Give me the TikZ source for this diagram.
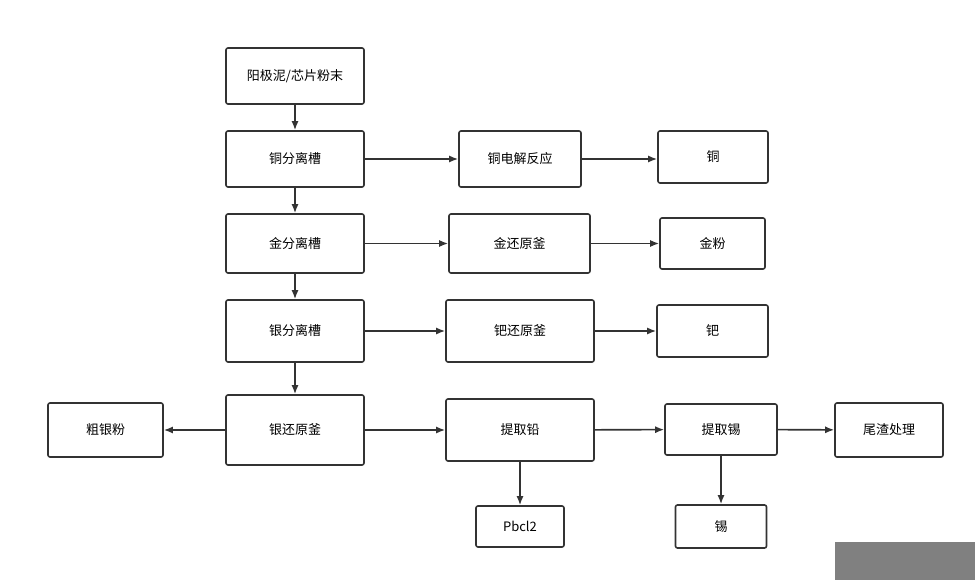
\documentclass[tikz,border=0pt]{standalone}
\usepackage{fontspec}
\setmainfont{Noto Sans CJK SC}
\usetikzlibrary{arrows.meta}
\definecolor{linegray}{HTML}{333333}
\begin{document}
\begin{tikzpicture}[x=1pt,y=-1pt,
	procbox/.style={draw=linegray,line width=1.6pt,rounded corners=2pt,inner sep=0pt,font=\fontsize{13}{15}\selectfont},
	flow/.style={draw=linegray,line width=1.6pt,-{Latex[length=9pt,width=7pt]}}]
			\useasboundingbox (0,0) rectangle (975,580);
			\fill[gray] (835,542) rectangle (975,580);

			\node[procbox,minimum width=138pt,minimum height=56pt]	(mud)		at (295,76)		{阳极泥/芯片粉末};
			\node[procbox,minimum width=138pt,minimum height=56pt]	(cusep)		at (295,159)	{铜分离槽};
			\node[procbox,minimum width=122pt,minimum height=56pt]	(cuelec)	at (520,159)	{铜电解反应};
			\node[procbox,minimum width=110pt,minimum height=52pt]	(cu)		at (713,157)	{铜};
			\node[procbox,minimum width=138pt,minimum height=59pt]	(ausep)		at (295,243.5)	{金分离槽};
			\node[procbox,minimum width=141pt,minimum height=59pt]	(aured)		at (519.5,243.5){金还原釜};
			\node[procbox,minimum width=105pt,minimum height=51pt]	(au)		at (712.5,243.5){金粉};
			\node[procbox,minimum width=138pt,minimum height=62pt]	(agsep)		at (295,331)	{银分离槽};
			\node[procbox,minimum width=148pt,minimum height=62pt]	(pdred)		at (520,331)	{钯还原釜};
			\node[procbox,minimum width=111pt,minimum height=52pt]	(pd)		at (712.5,331)	{钯};
			\node[procbox,minimum width=138pt,minimum height=70pt]	(agred)		at (295,430)	{银还原釜};
			\node[procbox,minimum width=115pt,minimum height=54pt]	(ag)		at (105.5,430)	{粗银粉};
			\node[procbox,minimum width=148pt,minimum height=62pt]	(pbext)		at (520,430)	{提取铅};
			\node[procbox,minimum width=112pt,minimum height=51pt]	(snext)		at (721,429.5)	{提取锡};
			\node[procbox,minimum width=108pt,minimum height=54pt]	(tail)		at (889,430)	{尾渣处理};
			\node[procbox,minimum width=88pt,minimum height=41pt]	(pbcl)		at (520,526.5)	{Pbcl2};
			\node[procbox,minimum width=91pt,minimum height=43pt]	(sn)		at (721,526.5)	{锡};

			\draw[flow] (mud) -- (cusep);
			\draw[flow] (cusep) -- (ausep);
			\draw[flow] (ausep) -- (agsep);
			\draw[flow] (agsep) -- (agred);
			\draw[flow] (cusep) -- (cuelec);
			\draw[flow] (cuelec.east) -- (cu.west |- cuelec.east);
			\draw[flow] (ausep) -- (aured);
			\draw[flow] (aured) -- (au);
			\draw[flow] (agsep) -- (pdred);
			\draw[flow] (pdred) -- (pd);
			\draw[flow] (agred) -- (ag);
			\draw[flow] (agred) -- (pbext);
			\draw[flow] (pbext) -- (snext);
			\draw[flow] (snext) -- (tail);
			\draw[flow] (pbext) -- (pbcl);
			\draw[flow] (snext) -- (sn);
		\end{tikzpicture}
\end{document}
